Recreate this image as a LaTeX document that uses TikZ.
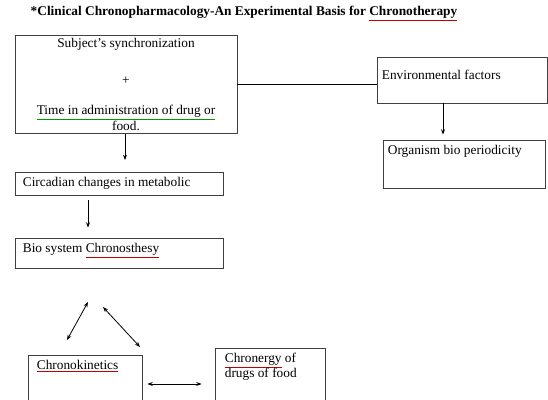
\documentclass[tikz,border=0pt]{standalone}
\usepackage{fontspec}
\setmainfont{Liberation Serif}
\usetikzlibrary{arrows.meta, positioning}

% spell-check marks under some words
\newcommand{\spellred}[1]{\textcolor{red!75!black}{\underline{\textcolor{black}{#1}}}}
\newcommand{\spellgreen}[1]{\textcolor{green!60!black}{\underline{\textcolor{black}{#1}}}}

\begin{document}
\begin{tikzpicture}[
    x=0.75pt, y=-0.75pt,
    font=\fontsize{10}{10}\selectfont,
    box/.style={rectangle, draw=black!75, line width=0.6pt, inner sep=2pt},
    txt/.style={inner sep=0pt, align=left},
    arrow/.style={-{Stealth[length=4pt, width=3pt]}, line width=0.6pt},
    darrow/.style={{Stealth[length=4pt, width=3pt]}-{Stealth[length=4pt, width=3pt]}, line width=0.6pt}
]
\useasboundingbox (0,0) rectangle (548,399);
\clip (0,0) rectangle (548,399);

% Title
\node[font=\fontsize{10}{10}\selectfont\bfseries] (title) at (244,14)
    {*Clinical Chronopharmacology-An Experimental Basis for \spellred{Chronotherapy}};

% Boxes
\node[box, align=center, minimum width=166.5pt, minimum height=68.25pt] (subj) at (126,84.5)
    {Subject's synchronization\\[17.75pt]+\\[12.5pt]\spellgreen{Time in administration of drug or}\\food.};
\node[box, minimum width=127.5pt, minimum height=34.5pt] (env) at (462,80) {};
\node[box, minimum width=121.5pt, minimum height=36pt] (org) at (464,164) {};
\node[box, minimum width=156pt, minimum height=17.25pt] (circ) at (119,183.5) {};
\node[box, minimum width=156pt, minimum height=22.5pt] (bio) at (119,253) {};
\node[box, minimum width=85.5pt, minimum height=48.75pt] (kin) at (85,387.5) {};
\node[box, minimum width=82.5pt, minimum height=54pt] (erg) at (270,384) {};

% Texts
\node[txt, below right=9.75pt and 3.75pt of env.north west] (envtxt) {Environmental factors};
\node[txt, below right=3.75pt and 3.75pt of org.north west] (orgtxt) {Organism bio periodicity};
\node[txt, right=6pt of circ.west] (circtxt) {Circadian changes in metabolic};
\node[txt, right=6pt of bio.west, yshift=1.5pt] (biotxt) {Bio system \spellred{Chronosthesy}};
\node[txt, below right=3.75pt and 6.75pt of kin.north west] (kintxt) {\spellred{Chronokinetics}};
\node[txt, below right=3.75pt and 7.5pt of erg.north west, font=\fontsize{10}{11.25}\selectfont] (ergtxt)
    {\spellred{Chronergy} of\\drugs of food};

% Connectors
\coordinate (gap) at (125,160);
\draw[arrow] (subj.south -| gap) -- (gap);
\draw[line width=0.6pt] (subj.east) -- (subj.east -| env.west);
\draw[arrow, shorten >=3.75pt] ([xshift=-14.25pt]env.south) -- ([xshift=-14.25pt]env.south |- org.north);
\draw[arrow, shorten <=3.75pt, shorten >=7.5pt] ([xshift=-23.25pt]circ.south) -- ([xshift=-23.25pt]circ.south |- bio.north);

% Cycle arrows
\coordinate (c1) at (67,340);
\coordinate (c2) at (88,302);
\coordinate (c3) at (103,307);
\coordinate (c4) at (140,347);
\draw[darrow] (c1) -- (c2);
\draw[darrow] (c3) -- (c4);
\draw[darrow, shorten <=3.75pt, shorten >=9.75pt] (kin.east |- erg.west) -- (erg.west);

\end{tikzpicture}
\end{document}
